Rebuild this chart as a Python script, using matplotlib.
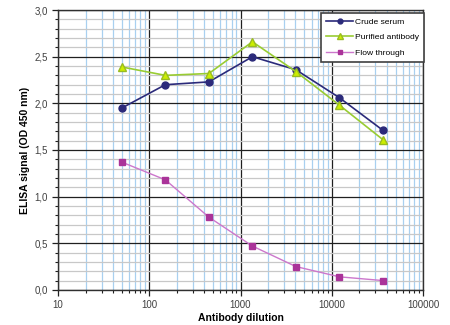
import numpy as np
import matplotlib.pyplot as plt
from matplotlib.ticker import FixedLocator, FuncFormatter, LogLocator, NullFormatter

plt.rcParams['font.family'] = ['Liberation Sans', 'DejaVu Sans']

dilution = [50, 150, 450, 1350, 4050, 12150, 36450]
crude = [1.95, 2.20, 2.23, 2.50, 2.36, 2.06, 1.71]
purified = [2.39, 2.30, 2.32, 2.66, 2.34, 1.98, 1.61]
flow = [1.37, 1.18, 0.78, 0.47, 0.25, 0.14, 0.10]

fig = plt.figure(figsize=(4.5, 3.25), dpi=100)
ax = fig.add_axes([0.129, 0.108, 0.811, 0.861])

ax.set_xscale('log')
ax.set_xlim(10, 100000)
ax.set_ylim(0, 3.0)

ax.xaxis.set_major_locator(LogLocator(base=10, numticks=10))
ax.xaxis.set_minor_locator(LogLocator(base=10, subs=np.arange(2, 10), numticks=10))
ax.xaxis.set_minor_formatter(NullFormatter())
ax.xaxis.set_major_formatter(FuncFormatter(lambda v, p: '%d' % v))
ax.yaxis.set_major_locator(FixedLocator(np.arange(0, 3.01, 0.5)))
ax.yaxis.set_minor_locator(FixedLocator(np.arange(0, 3.01, 0.1)))
ax.yaxis.set_major_formatter(FuncFormatter(lambda v, p: ('%.1f' % v).replace('.', ',')))

ax.grid(which='minor', axis='x', color='#a8d0f0', lw=0.9)
ax.grid(which='minor', axis='y', color='#c8c8c8', lw=0.9)
ax.grid(which='major', axis='both', color='#202020', lw=0.9)
ax.set_axisbelow(True)

ax.tick_params(which='both', direction='out', labelsize=7, colors='#202020', labelcolor='#404040')
ax.tick_params(which='major', length=4, width=0.9)
ax.tick_params(which='minor', length=2.5, width=0.8)
for s in ax.spines.values():
    s.set_color('#303030')
    s.set_linewidth(1.0)

ax.plot(dilution, crude, '-o', color='#2b2a7a', markersize=5, lw=1.2, label='Crude serum')
ax.plot(dilution, purified, '-^', color='#99cc33', markerfacecolor='#ccee00',
        markeredgecolor='#99bb22', markersize=6, lw=1.2, label='Purified antibody')
ax.plot(dilution, flow, '-s', color='#cc77cc', markerfacecolor='#aa3399',
        markeredgecolor='#aa3399', markersize=5, lw=1.0, label='Flow through')

ax.set_xlabel('Antibody dilution', fontsize=7.5, fontweight='bold', labelpad=2)
ax.set_ylabel('ELISA signal (OD 450 nm)', fontsize=7.5, fontweight='bold', labelpad=3)

leg = ax.legend(loc='upper right', bbox_to_anchor=(1.01, 1.0), fontsize=6.1, frameon=True,
                fancybox=False, edgecolor='#404040', framealpha=1, handlelength=3.2,
                borderpad=0.6, labelspacing=0.9, handletextpad=0.2, borderaxespad=0.3,
                markerscale=0.7)
leg.get_frame().set_linewidth(1.2)

fig.savefig('out.png', dpi=100)
